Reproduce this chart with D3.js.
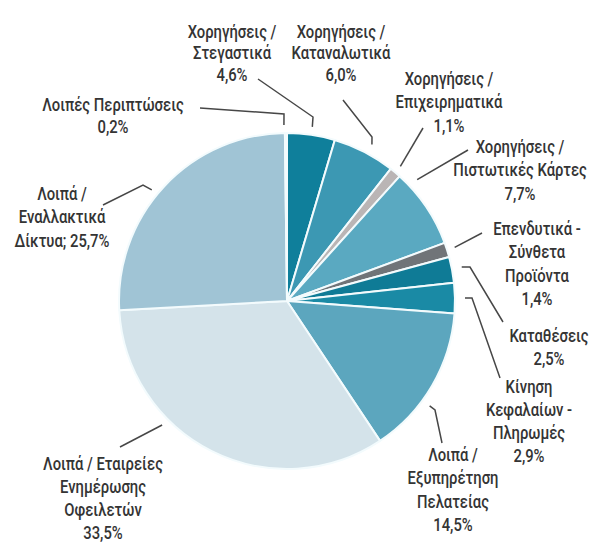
<!DOCTYPE html>
<html>
<head>
<meta charset="utf-8">
<script src="https://cdn.jsdelivr.net/npm/d3@7"></script>
<style>
  html, body { margin: 0; padding: 0; background: #ffffff; }
  svg { display: block; }
  text { font-family: Roboto, "Noto Sans", sans-serif; fill: #343434; font-weight: 500; }
</style>
</head>
<body>
<svg id="chart" width="590" height="545"></svg>
<script>
// ---- data ----
const categories = [
  "Χορηγήσεις /|Στεγαστικά",
  "Χορηγήσεις /|Καταναλωτικά",
  "Χορηγήσεις /|Επιχειρηματικά",
  "Χορηγήσεις /|Πιστωτικές Κάρτες",
  "Επενδυτικά -|Σύνθετα|Προϊόντα",
  "Καταθέσεις",
  "Κίνηση|Κεφαλαίων -|Πληρωμές",
  "Λοιπά /|Εξυπηρέτηση|Πελατείας",
  "Λοιπά / Εταιρείες|Ενημέρωσης|Οφειλετών",
  "Λοιπά /|Εναλλακτικά|Δίκτυα;",
  "Λοιπές Περιπτώσεις"
];
const values = [4.6, 6.0, 1.1, 7.7, 1.4, 2.5, 2.9, 14.5, 33.5, 25.7, 0.2];
const colors = ["#0f7f9b", "#3c98b3", "#bab5b5", "#5aa9c1", "#707478", "#0f7b96",
                "#1a8aa5", "#5ca6be", "#d4e3ea", "#a0c4d5", "#e2e2e2"];

// ---- layout (label placement & leader geometry) ----
const layout = [
  { x: 232, y: 38,  lh: 21.5, ang: null,  r: 176, elbow: [313, 117], end: [258, 79] },
  { x: 341, y: 38,  lh: 21.5, ang: 28.5,  r: 178, elbow: [372, 137], end: [343, 100] },
  { x: 449, y: 85,  lh: 23.5, ang: null,  r: 176, elbow: null,       end: [423, 128] },
  { x: 520, y: 153, lh: 23.5, ang: 47,    r: 178, elbow: null,       end: [468, 150] },
  { x: 537, y: 235, lh: 23.5, ang: null,  r: 176, elbow: null,       end: [482, 233] },
  { x: 549, y: 342, lh: 23,   ang: 79,    r: 178, elbow: [470, 267], end: [503, 322] },
  { x: 529, y: 393, lh: 23,   ang: 89,    r: 178, elbow: [472, 298], end: [500, 378] },
  { x: 453, y: 461, lh: 23.3, ang: 126.3, r: 177, elbow: [435, 410], end: [442, 443] },
  { x: 103, y: 470, lh: 23,   ang: 225.2, r: 176, elbow: null,       end: [120, 447] },
  { x: 62,  y: 200, lh: 23.5, ang: 309.4, r: 175, elbow: [143, 185], end: [103, 205], inline: true },
  { x: 113, y: 111, lh: 22,   ang: 359,   r: 176, elbow: [284, 114], end: [200, 108] }
];

const cx = 287, cy = 301, R = 168;
const fontSize = 19, squeeze = 0.78;

const svg = d3.select("#chart");
const g = svg.append("g").attr("transform", `translate(${cx},${cy})`);

const pie = d3.pie().sort(null).value(d => d).startAngle(0).endAngle(2 * Math.PI);
const arcs = pie(values);
const arc = d3.arc().innerRadius(0).outerRadius(R);

g.selectAll("path.slice")
  .data(arcs)
  .enter().append("path")
  .attr("class", "slice")
  .attr("d", arc)
  .attr("fill", (d, i) => colors[i])
  .attr("stroke", "#f3fbfd")
  .attr("stroke-width", 2)
  .attr("stroke-linejoin", "round");

const fmt = v => d3.format(".1f")(v).replace(".", ",") + "%";

// leaders
const lines = svg.append("g");
arcs.forEach((a, i) => {
  const L = layout[i];
  const angDeg = L.ang === null ? ((a.startAngle + a.endAngle) / 2) * 180 / Math.PI : L.ang;
  const t = angDeg * Math.PI / 180;
  const p0 = [cx + L.r * Math.sin(t), cy - L.r * Math.cos(t)];
  const pts = [p0];
  if (L.elbow) pts.push(L.elbow);
  pts.push(L.end);
  lines.append("path")
    .attr("d", d3.line()(pts))
    .attr("fill", "none")
    .attr("stroke", "#474747")
    .attr("stroke-width", 1.5);
});

// labels
const labels = svg.append("g");
arcs.forEach((a, i) => {
  const L = layout[i];
  const parts = categories[i].split("|");
  if (L.inline) parts[parts.length - 1] += " " + fmt(values[i]);
  else parts.push(fmt(values[i]));
  const lg = labels.append("g").attr("transform", `translate(${L.x},${L.y}) scale(${squeeze},1)`);
  parts.forEach((s, k) => {
    lg.append("text")
      .attr("x", 0)
      .attr("y", k * L.lh)
      .attr("text-anchor", "middle")
      .attr("font-size", fontSize)
      .text(s);
  });
});
</script>
</body>
</html>
